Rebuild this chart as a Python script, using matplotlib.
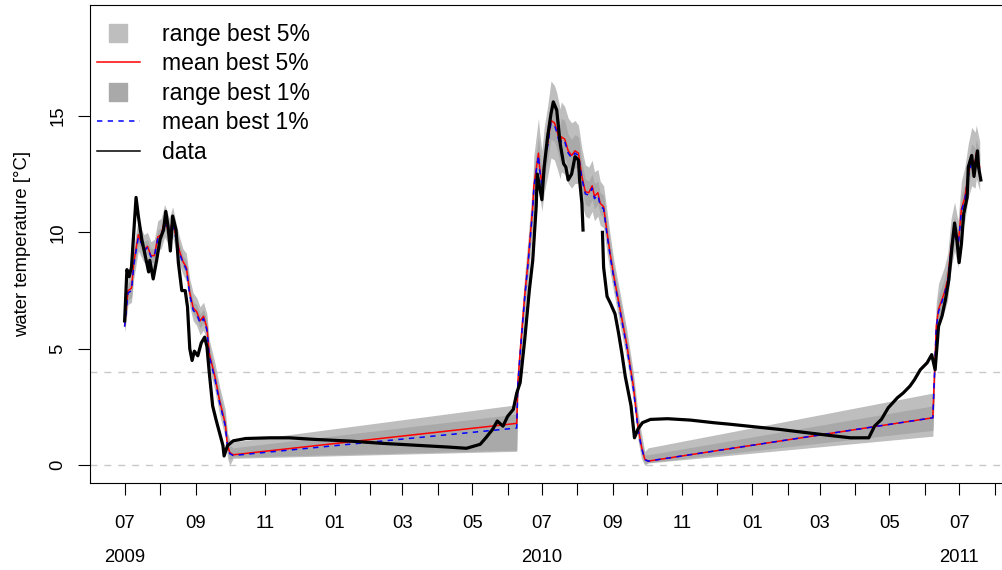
import numpy as np
import pandas as pd
import matplotlib

matplotlib.use("Agg")
import matplotlib.pyplot as plt
from matplotlib.lines import Line2D
from matplotlib.transforms import blended_transform_factory

plt.rcParams["font.family"] = ["Liberation Sans", "DejaVu Sans"]

# --- observed water temperature (NaN = gap in the record) ---
obs_dates = [
    "2009-07-01", "2009-07-03", "2009-07-05", "2009-07-07", "2009-07-10", "2009-07-11",
    "2009-07-13", "2009-07-16", "2009-07-19", "2009-07-22", "2009-07-23", "2009-07-26",
    "2009-07-29", "2009-08-01", "2009-08-04", "2009-08-06", "2009-08-08", "2009-08-10",
    "2009-08-12", "2009-08-15", "2009-08-17", "2009-08-20", "2009-08-23", "2009-08-25",
    "2009-08-27", "2009-08-29", "2009-08-31", "2009-09-03", "2009-09-06", "2009-09-09",
    "2009-09-11", "2009-09-13", "2009-09-16", "2009-09-19", "2009-09-22", "2009-09-25",
    "2009-09-26", "2009-09-29", "2009-10-04", "2009-10-15", "2009-11-05", "2009-11-22",
    "2009-12-15", "2010-01-14", "2010-02-12", "2010-03-13", "2010-04-11", "2010-04-26",
    "2010-05-08", "2010-05-13", "2010-05-19", "2010-05-23", "2010-05-28", "2010-06-01",
    "2010-06-06", "2010-06-09", "2010-06-12", "2010-06-16", "2010-06-20", "2010-06-23",
    "2010-06-26", "2010-06-27", "2010-07-01", "2010-07-03", "2010-07-06", "2010-07-09",
    "2010-07-11", "2010-07-14", "2010-07-17", "2010-07-20", "2010-07-22", "2010-07-24",
    "2010-07-27", "2010-07-30", "2010-08-02", "2010-08-03", "2010-08-05", "2010-08-06",
    "2010-08-15",
    "2010-08-23", "2010-08-24", "2010-08-27", "2010-08-30", "2010-09-03", "2010-09-06",
    "2010-09-09", "2010-09-12", "2010-09-17", "2010-09-20", "2010-09-23", "2010-09-27",
    "2010-10-04", "2010-10-19", "2010-11-08", "2010-11-28", "2010-12-13", "2011-01-25",
    "2011-03-10", "2011-03-28", "2011-04-13", "2011-04-18", "2011-04-24", "2011-04-30",
    "2011-05-08", "2011-05-13", "2011-05-19", "2011-05-23", "2011-05-28", "2011-06-03",
    "2011-06-07", "2011-06-10", "2011-06-13", "2011-06-16", "2011-06-19", "2011-06-22",
    "2011-06-25", "2011-06-27", "2011-06-29", "2011-07-01", "2011-07-03", "2011-07-05",
    "2011-07-08", "2011-07-09", "2011-07-12", "2011-07-14", "2011-07-17", "2011-07-18",
    "2011-07-20",
]
obs_temp = [
    6.2, 8.4, 8.1, 8.5, 10.8, 11.5,
    10.7, 9.7, 9.0, 8.3, 8.8, 8.0,
    8.8, 9.7, 10.1, 10.9, 10.25, 9.2,
    10.7, 10.1, 8.7, 7.5, 7.5, 6.8,
    5.0, 4.5, 4.9, 4.7, 5.25, 5.5,
    5.1, 4.0, 2.55, 1.95, 1.4, 0.85,
    0.4, 0.85, 1.05, 1.15, 1.18, 1.18,
    1.11, 1.04, 0.94, 0.86, 0.78, 0.73,
    0.9, 1.18, 1.55, 1.9, 1.68, 2.1,
    2.4, 3.1, 3.55, 5.4, 7.5, 8.8,
    11.1, 12.5, 11.4, 12.8, 14.1, 15.1,
    15.6, 15.25, 13.8, 12.95, 12.8, 12.25,
    12.5, 13.25, 13.1, 12.25, 11.25, 10.1,
    np.nan,
    10.0, 8.5, 7.25, 6.95, 6.5, 5.7,
    4.8, 3.8, 2.55, 1.18, 1.55, 1.83,
    1.97, 2.0, 1.94, 1.83, 1.76, 1.54,
    1.28, 1.18, 1.18, 1.68, 1.97, 2.47,
    2.9, 3.1, 3.4, 3.68, 4.1, 4.4,
    4.75, 4.1, 5.97, 6.4, 7.1, 7.97,
    9.5, 10.4, 9.7, 8.7, 9.5, 10.8,
    11.5, 12.8, 13.3, 12.4, 13.5, 12.8,
    12.25,
]

# --- model ensemble: means and ranges of best 5% / best 1% runs ---
mod_dates = [
    "2009-07-01", "2009-07-04", "2009-07-07", "2009-07-09", "2009-07-13", "2009-07-16",
    "2009-07-18", "2009-07-21", "2009-07-24", "2009-07-27", "2009-07-30", "2009-08-02",
    "2009-08-05", "2009-08-07", "2009-08-09", "2009-08-12", "2009-08-15", "2009-08-18",
    "2009-08-21", "2009-08-24", "2009-08-27", "2009-08-30", "2009-09-02", "2009-09-05",
    "2009-09-08", "2009-09-11", "2009-09-13", "2009-09-18", "2009-09-22", "2009-09-27",
    "2009-09-29", "2009-10-01", "2009-10-04",
    "2010-06-09", "2010-06-10", "2010-06-13", "2010-06-16", "2010-06-19", "2010-06-23",
    "2010-06-24", "2010-06-28", "2010-06-29", "2010-07-01", "2010-07-03", "2010-07-06",
    "2010-07-09", "2010-07-12", "2010-07-14", "2010-07-17", "2010-07-18", "2010-07-21",
    "2010-07-24", "2010-07-27", "2010-07-30", "2010-08-02", "2010-08-05", "2010-08-08",
    "2010-08-11", "2010-08-14", "2010-08-16", "2010-08-19", "2010-08-21", "2010-08-24",
    "2010-08-27", "2010-08-30", "2010-09-02", "2010-09-07", "2010-09-13", "2010-09-19",
    "2010-09-23", "2010-09-26", "2010-09-29", "2010-10-02",
    "2011-06-08", "2011-06-11", "2011-06-13", "2011-06-18", "2011-06-21", "2011-06-24",
    "2011-06-27", "2011-06-30", "2011-07-03", "2011-07-06", "2011-07-09", "2011-07-12",
    "2011-07-15", "2011-07-16", "2011-07-19",
]
mean5 = [
    6.0, 7.5, 7.6, 8.7, 9.9, 9.5, 9.25, 9.4, 9.0, 9.0, 9.8, 9.9,
    10.5, 10.25, 9.9, 10.5, 9.8, 9.2, 8.75, 8.5, 7.4, 6.75, 6.6, 6.2,
    6.4, 5.9, 4.8, 3.8, 2.8, 1.8, 0.85, 0.55, 0.45,
    1.8, 3.6, 5.5, 7.3, 8.8, 11.1, 12.0, 13.4, 12.8, 12.1, 13.0, 13.8,
    14.8, 14.7, 14.4, 13.8, 14.1, 14.0, 13.5, 13.3, 13.5, 13.4, 12.4, 11.75,
    11.7, 12.0, 11.55, 11.7, 11.25, 11.1, 10.0, 9.0, 8.1, 6.8, 5.25, 3.4,
    1.68, 0.83, 0.26, 0.18,
    2.04, 5.97, 6.7, 7.4, 7.97, 9.4, 10.1, 9.4, 11.0, 11.5, 12.5, 13.1,
    13.0, 13.4, 12.8,
]
mean1 = [
    5.95, 7.4, 7.5, 8.6, 9.8, 9.5, 9.2, 9.35, 8.95, 8.95, 9.75, 9.85,
    10.4, 10.2, 9.85, 10.45, 9.7, 9.1, 8.7, 8.4, 7.3, 6.65, 6.5, 6.1,
    6.3, 5.8, 4.7, 3.7, 2.7, 1.7, 0.8, 0.5, 0.42,
    1.6, 3.5, 5.4, 7.2, 8.7, 11.0, 11.9, 13.3, 12.7, 12.0, 12.9, 13.7,
    14.7, 14.6, 14.3, 13.7, 14.0, 13.9, 13.4, 13.2, 13.4, 13.3, 12.3, 11.65,
    11.6, 11.9, 11.45, 11.6, 11.15, 11.0, 9.9, 8.9, 8.0, 6.7, 5.15, 3.3,
    1.6, 0.78, 0.24, 0.18,
    2.04, 5.9, 6.6, 7.3, 7.9, 9.3, 10.0, 9.3, 10.9, 11.4, 12.4, 13.0,
    12.9, 13.3, 12.7,
]
lo5 = [
    5.7, 6.9, 7.0, 8.0, 9.2, 8.9, 8.7, 8.8, 8.4, 8.4, 9.2, 9.3,
    9.8, 9.6, 9.3, 9.8, 9.2, 8.6, 8.2, 7.9, 6.8, 6.2, 6.0, 5.6,
    5.8, 5.3, 4.2, 3.2, 2.2, 1.2, 0.3, 0.0, 0.3,
    0.6, 3.0, 4.8, 6.5, 8.0, 10.2, 11.0, 12.2, 11.6, 10.9, 11.7, 12.4,
    13.2, 13.1, 12.8, 12.3, 12.6, 12.5, 12.1, 11.9, 12.1, 12.1, 11.2, 10.7,
    10.6, 10.9, 10.5, 10.7, 10.3, 10.2, 9.1, 8.2, 7.4, 6.1, 4.6, 2.8,
    1.1, 0.3, 0.0, 0.1,
    1.25, 5.3, 5.9, 6.6, 7.1, 8.5, 9.2, 8.5, 10.0, 10.5, 11.5, 12.0,
    11.9, 12.3, 11.8,
]
hi5 = [
    6.4, 8.1, 8.3, 9.4, 10.6, 10.1, 9.9, 10.0, 9.6, 9.7, 10.5, 10.6,
    11.2, 10.9, 10.6, 11.1, 10.4, 9.8, 9.3, 9.1, 8.0, 7.4, 7.2, 6.8,
    7.0, 6.5, 5.4, 4.4, 3.4, 2.4, 1.4, 1.1, 1.0,
    2.6, 4.3, 6.3, 8.2, 9.8, 12.2, 13.3, 14.9, 14.3, 13.5, 14.5, 15.4,
    16.5, 16.3, 16.0, 15.3, 15.6, 15.4, 14.9, 14.7, 14.8, 14.6, 13.6, 12.9,
    12.8, 13.1, 12.6, 12.7, 12.2, 12.0, 10.9, 9.8, 8.8, 7.5, 5.9, 4.0,
    2.3, 1.4, 0.6, 0.75,
    3.1, 7.0, 7.8, 8.5, 9.1, 10.6, 11.3, 10.5, 12.2, 12.8, 13.8, 14.5,
    14.3, 14.6, 13.9,
]
lo1 = [
    5.8, 7.1, 7.2, 8.3, 9.5, 9.2, 8.9, 9.1, 8.7, 8.7, 9.5, 9.6,
    10.1, 9.9, 9.6, 10.1, 9.5, 8.9, 8.5, 8.2, 7.1, 6.5, 6.3, 5.9,
    6.1, 5.6, 4.5, 3.5, 2.5, 1.5, 0.55, 0.25, 0.35,
    0.65, 3.2, 5.1, 6.9, 8.4, 10.6, 11.5, 12.8, 12.2, 11.5, 12.4, 13.1,
    14.0, 13.9, 13.6, 13.0, 13.3, 13.2, 12.8, 12.6, 12.8, 12.7, 11.8, 11.2,
    11.1, 11.4, 11.0, 11.2, 10.8, 10.6, 9.5, 8.6, 7.7, 6.4, 4.9, 3.1,
    1.35, 0.55, 0.08, 0.12,
    1.5, 5.6, 6.2, 6.9, 7.5, 8.9, 9.6, 8.9, 10.5, 11.0, 12.0, 12.6,
    12.5, 12.9, 12.3,
]
hi1 = [
    6.2, 7.8, 8.0, 9.1, 10.3, 9.8, 9.6, 9.7, 9.3, 9.3, 10.1, 10.2,
    10.8, 10.6, 10.2, 10.8, 10.1, 9.5, 9.0, 8.8, 7.7, 7.0, 6.9, 6.5,
    6.7, 6.2, 5.1, 4.1, 3.1, 2.1, 1.15, 0.85, 0.75,
    2.2, 4.0, 5.9, 7.8, 9.3, 11.7, 12.7, 14.1, 13.5, 12.8, 13.7, 14.6,
    15.6, 15.5, 15.2, 14.6, 14.9, 14.8, 14.2, 14.0, 14.2, 14.1, 13.0, 12.3,
    12.2, 12.5, 12.1, 12.2, 11.7, 11.6, 10.5, 9.4, 8.5, 7.2, 5.6, 3.7,
    2.0, 1.1, 0.45, 0.45,
    2.55, 6.5, 7.3, 8.0, 8.6, 10.0, 10.7, 10.0, 11.6, 12.1, 13.1, 13.8,
    13.6, 14.0, 13.4,
]

ref_levels = [0, 4]
year_labels = ["2009", "2010", "2011"]

obs_t = pd.to_datetime(obs_dates)
mod_t = pd.to_datetime(mod_dates)

light = "#bebebe"
dark = "#a9a9a9"

fig = plt.figure(figsize=(10.03, 5.70), dpi=100)
# plot region in pixels: left 90, right ~1014 (cut off), top 5, bottom 483
ax = fig.add_axes([90 / 1003, 87 / 570, 924 / 1003, 478 / 570])

for lev in ref_levels:
    ax.axhline(lev, color="#c8c8c8", lw=1.0, ls=(0, (5, 5)), zorder=1)

ax.fill_between(mod_t, lo5, hi5, color=light, lw=0, zorder=2)
ax.fill_between(mod_t, lo1, hi1, color=dark, lw=0, zorder=3)
ax.plot(mod_t, mean5, color="red", lw=1.1, zorder=4)
ax.plot(mod_t, mean1, color="blue", lw=1.1, ls=(0, (3.5, 3.5)), zorder=5)
ax.plot(obs_t, obs_temp, color="black", lw=2.3, zorder=6, solid_joinstyle="round")

ax.set_xlim(np.datetime64("2009-05-31T17:00"), np.datetime64("2011-08-18"))
ax.set_ylim(-0.76, 19.76)

months = pd.date_range("2009-07-01", "2011-08-01", freq="MS")
ax.set_xticks(months)
ax.set_xticklabels([m.strftime("%m") if m.month % 2 == 1 else "" for m in months])
ax.set_yticks([0, 5, 10, 15])
ax.tick_params(axis="both", length=8.6, width=0.8, labelsize=13.3, color="black")
ax.tick_params(axis="x", pad=14.2)
ax.tick_params(axis="y", pad=8.5, labelrotation=90)
for lbl in ax.get_yticklabels():
    lbl.set_va("center")

trans = blended_transform_factory(ax.transData, ax.transAxes)
for yl in year_labels:
    ax.text(pd.Timestamp(yl + "-07-01"), -0.156, yl, transform=trans,
            ha="center", va="center", fontsize=13.3)

ax.set_ylabel("water temperature [°C]", fontsize=13.3)
ax.yaxis.set_label_coords(-0.064, 0.5)

for spine in ax.spines.values():
    spine.set_color("black")
    spine.set_linewidth(0.8)

handles = [
    Line2D([], [], marker="s", ms=13, color=light, ls="none"),
    Line2D([], [], color="red", lw=1.1),
    Line2D([], [], marker="s", ms=13, color=dark, ls="none"),
    Line2D([], [], color="blue", lw=1.1, ls=(0, (3.5, 3.5))),
    Line2D([], [], color="black", lw=1.1),
]
labels = ["range best 5%", "mean best 5%", "range best 1%", "mean best 1%", "data"]
ax.legend(handles, labels, loc="upper left", bbox_to_anchor=(7 / 924, 1 - 18 / 478),
          frameon=False, fontsize=16.5, handlelength=1.87, handletextpad=0.96,
          labelspacing=0.28, borderpad=0, borderaxespad=0)

fig.savefig("out.png", dpi=100)
